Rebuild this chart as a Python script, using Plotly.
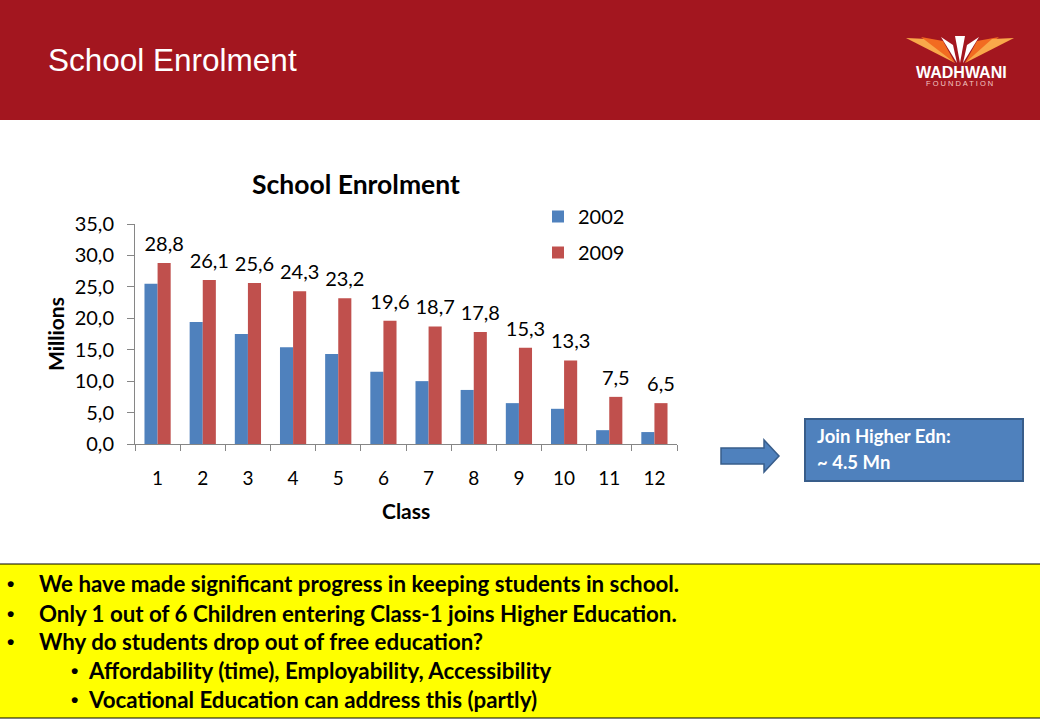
import plotly.graph_objects as go

# ---------------- data ----------------
classes = [1, 2, 3, 4, 5, 6, 7, 8, 9, 10, 11, 12]
enrol_2002 = [25.5, 19.4, 17.5, 15.4, 14.3, 11.5, 10.0, 8.6, 6.5, 5.6, 2.2, 1.9]
enrol_2009 = [28.8, 26.1, 25.6, 24.3, 23.2, 19.6, 18.7, 17.8, 15.3, 13.3, 7.5, 6.5]
series_names = ["2002", "2009"]
y_ticks = [0, 5, 10, 15, 20, 25, 30, 35]
bullets = [
    "We have made significant progress in keeping students in school.",
    "Only 1 out of 6 Children entering Class-1 joins Higher Education.",
    "Why do students drop out of free education?",
]
sub_bullets = [
    "Affordability (time), Employability, Accessibility",
    "Vocational Education can address this (partly)",
]

W, H = 1040, 720
def px(x):
    return x / W
def py(y):
    return 1 - y / H

BLUE = "#4F81BD"
RED = "#C0504D"
HEADER = "#A3161F"
FONT = "Lato, Carlito, Calibri, sans-serif"
BW = 0.29

fig = go.Figure()
fig.add_trace(go.Bar(x=classes, y=enrol_2002, name=series_names[0], marker_color=BLUE,
                     width=BW, offset=-BW, legendgroup="a", marker_line_width=0))
fig.add_trace(go.Bar(x=classes, y=enrol_2009, name=series_names[1], marker_color=RED,
                     width=BW, offset=0, legendgroup="b", marker_line_width=0))
fig.add_trace(go.Scatter(
    x=[c + BW / 2 for c in classes], y=enrol_2009, mode="markers+text",
    text=[f"{v:.1f}".replace(".", ",") for v in enrol_2009],
    textposition="top center", marker=dict(size=10, opacity=0),
    textfont=dict(family=FONT, size=20, color="black"),
    showlegend=False, hoverinfo="skip"))

x0, x1 = 135, 677
y0, y1 = 444, 224
fig.update_layout(
    width=W, height=H, margin=dict(l=0, r=0, t=0, b=0),
    paper_bgcolor="white", plot_bgcolor="white",
    barmode="overlay",
    separators=",.",
    font=dict(family=FONT, size=16, color="black"),
    showlegend=True,
    legend=dict(x=px(538), y=py(197), xanchor="left", yanchor="top",
                font=dict(family=FONT, size=20, color="black"),
                traceorder="grouped", tracegroupgap=7, bgcolor="rgba(0,0,0,0)"),
    xaxis=dict(domain=[px(x0), px(x1)], range=[0.5, 12.5], tickvals=classes,
               ticktext=[str(c) for c in classes], ticks="", showgrid=False,
               zeroline=False, showline=True, linecolor="#868686", linewidth=1,
               tickfont=dict(family=FONT, size=19, color="black"),
               ticklabelstandoff=17, automargin=False,
               minor=dict(tick0=0.5, dtick=1, ticks="outside", ticklen=6,
                          tickcolor="#868686", showgrid=False)),
    yaxis=dict(domain=[py(y0), py(y1)], range=[0, 35], tickvals=y_ticks,
               tickformat=".1f", ticks="outside", ticklen=7, tickcolor="#868686",
               showgrid=False, zeroline=False, showline=True, linecolor="#868686",
               linewidth=1, automargin=False, ticklabelstandoff=9,
               tickfont=dict(family=FONT, size=20, color="black")),
)

shapes = []
# header band
shapes.append(dict(type="rect", xref="paper", yref="paper", x0=0, x1=1, y0=py(120), y1=1,
                   fillcolor=HEADER, line_width=0, layer="below"))
# logo fan
fan = [
    ([(955, 63), (906, 38), (928, 39)], "#F9A84A"),
    ([(955, 63), (921, 37), (943, 41)], "#F26B21"),
    ([(957, 63), (941, 37), (953, 45)], "white"),
    ([(960, 63), (955, 36), (965, 36)], "white"),
    ([(963, 63), (979, 37), (967, 45)], "white"),
    ([(965, 63), (999, 37), (977, 41)], "#F26B21"),
    ([(965, 63), (1014, 38), (992, 39)], "#F9A84A"),
]
def poly(pts):
    return "M " + " L ".join(f"{px(a):.5f} {py(b):.5f}" for a, b in pts) + " Z"
for pts, c in fan:
    shapes.append(dict(type="path", xref="paper", yref="paper", path=poly(pts),
                       fillcolor=c, line_width=0))
# arrow
arrow_pts = [(721, 448), (764, 448), (764, 440), (779, 456), (764, 472), (764, 464), (721, 464)]
shapes.append(dict(type="path", xref="paper", yref="paper", path=poly(arrow_pts),
                   fillcolor=BLUE, line=dict(color="#385D8A", width=1.5)))
# blue box
shapes.append(dict(type="rect", xref="paper", yref="paper", x0=px(805), x1=px(1023),
                   y0=py(481), y1=py(419), fillcolor=BLUE, line=dict(color="#385D8A", width=2)))
# yellow box
shapes.append(dict(type="rect", xref="paper", yref="paper", x0=px(-2), x1=px(1042),
                   y0=py(718), y1=py(564), fillcolor="#FFFF00", line=dict(color="black", width=1)))
fig.update_layout(shapes=shapes)

ann = []
def add(text, x, y, size, color="black", family=FONT, xanchor="left", angle=0):
    ann.append(dict(text=text, x=px(x), y=py(y), xref="paper", yref="paper",
                    xanchor=xanchor, yanchor="middle", showarrow=False, textangle=angle,
                    font=dict(family=family, size=size, color=color)))

add("School Enrolment", 46, 60, 31.5, "white", "Liberation Sans, Arial")
add("<b>WADHWANI</b>", 961, 72.5, 16, "white", "Liberation Sans, Arial", "center")
add("F O U N D A T I O N", 959, 83.5, 7.5, "#F5C9C4", "Liberation Sans, Arial", "center")
add("<b>School Enrolment</b>", 356, 184, 26.5, xanchor="center")
add("<b>Class</b>", 406, 510, 21, xanchor="center")
add("<b>Millions</b>", 55, 334, 21, xanchor="center", angle=-90)
add("<b>Join Higher Edn:</b>", 815, 436, 18.5, "white")
add("<b>~ 4.5 Mn</b>", 815, 462, 18.5, "white")

line_y = [583, 613, 641, 670, 699]
for i, t in enumerate(bullets):
    add("<b>•</b>", 5, line_y[i], 21, family="Liberation Sans, Arial")
    add(f"<b>{t}</b>", 37, line_y[i], 22.3)
for j, t in enumerate(sub_bullets):
    yy = line_y[len(bullets) + j]
    add("<b>•</b>", 69, yy, 21, family="Liberation Sans, Arial")
    add(f"<b>{t}</b>", 86, yy, 22.3)
fig.update_layout(annotations=ann)

fig.write_html(
    "out.html",
    config={"displayModeBar": False},
    post_script="document.body.style.margin='0';document.body.style.padding='0';"
                "document.documentElement.style.overflow='hidden';document.body.style.overflow='hidden';",
)
